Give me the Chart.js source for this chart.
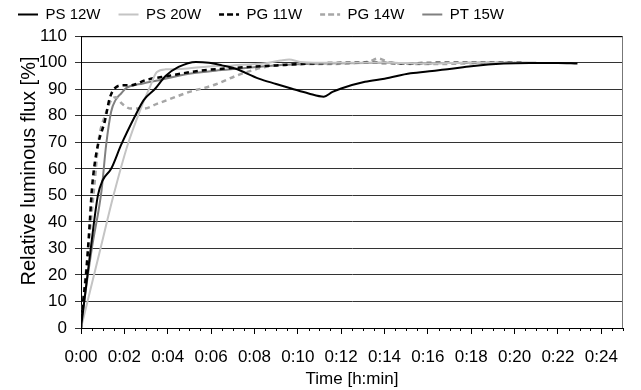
<!DOCTYPE html>
<html>
<head>
<meta charset="utf-8">
<script src="https://cdn.jsdelivr.net/npm/chart.js@4.4.1/dist/chart.umd.min.js"></script>
<style>
  html, body { margin: 0; padding: 0; background: #fff; }
</style>
</head>
<body>
<canvas id="flux" width="641" height="390"></canvas>
<script>
// czas w minutach, strumien w %
const seriesNames = ['PS 12W', 'PS 20W', 'PG 11W', 'PG 14W', 'PT 15W'];

const ps12Time = [0, 0.15, 0.45, 0.78, 1.0, 1.39, 1.85, 2.5, 2.9, 3.4, 3.9, 4.5, 5.3, 5.9, 6.5, 7.1, 8.2, 9.0, 9.7, 10.5, 11.2, 11.6, 12.0, 13.1, 14.0, 15.2, 16.2, 17.0, 18.0, 19.5, 20.7, 22.0, 22.9];
const ps12Flux = [0, 10, 30, 50, 55.7, 60, 69, 80, 86, 90, 95, 98.4, 100.3, 100, 99, 97.8, 94, 92, 90.3, 88.4, 87.2, 89, 90.3, 92.8, 94, 96, 96.9, 97.6, 98.7, 99.7, 99.9, 99.9, 99.7];

const ps20Time = [0, 0.3, 0.9, 1.5, 2.15, 2.7, 3.15, 3.5, 3.9, 4.5, 5.5, 7.0, 8.5, 9.2, 9.6, 10.1, 11, 12.5, 14, 16, 18, 20, 20.6];
const ps20Flux = [0, 10, 30, 50, 69, 81.5, 90.3, 96.5, 97.5, 97.6, 98.3, 99, 99.8, 100.8, 101.2, 100.3, 100, 100, 100, 99.8, 100, 100, 100];

const pg11Time = [0, 0.1, 0.24, 0.4, 0.5, 0.6, 0.78, 1.1, 1.32, 1.55, 1.95, 2.3, 3, 4, 5.5, 7, 9, 11, 13, 15, 17, 19, 20.5];
const pg11Flux = [0, 10, 20.6, 39.4, 52, 60, 69, 78, 86.5, 90.3, 91.5, 91.5, 93.5, 95, 97, 98, 99, 99.8, 100, 99.8, 100, 100, 100];

const pg14Time = [0, 0.1, 0.25, 0.45, 0.63, 0.8, 1.15, 1.4, 1.6, 1.9, 2.3, 2.9, 3.5, 4, 5, 6.1, 7.3, 8.5, 9.7, 11, 12.5, 13.3, 13.7, 14.2, 15, 16.5, 18, 20];
const pg14Flux = [0, 10, 23, 40, 55, 70, 81, 86, 87, 84.5, 82.7, 82.7, 84.5, 86, 89, 91.5, 95.5, 98.4, 99.4, 99.5, 99.8, 100.5, 101.6, 100.2, 99.6, 99.5, 99.8, 100.2];

const pt15Time = [0, 0.15, 0.5, 0.95, 1.16, 1.39, 1.6, 1.85, 2.1, 2.86, 3.6, 4.3, 5.15, 6.2, 7.3, 8.5, 10, 12, 14, 16, 18, 20, 21];
const pt15Flux = [0, 10, 30, 52, 69, 81.5, 86, 88.4, 90.5, 92.2, 93.4, 94.7, 96, 97, 97.8, 98.7, 99.4, 99.8, 100, 99.8, 100, 100, 100];

const xTickLabels = ['0:00', '0:02', '0:04', '0:06', '0:08', '0:10', '0:12', '0:14', '0:16', '0:18', '0:20', '0:22', '0:24'];

function toPoints(times, values) {
  return times.map((t, i) => ({x: t, y: values[i]}));
}

const lineStyles = [
  {color: '#000000', dash: [], width: 2},
  {color: '#c4c4c4', dash: [], width: 2},
  {color: '#000000', dash: [5, 4], width: 2.5},
  {color: '#a6a6a6', dash: [5, 4], width: 2.5},
  {color: '#808080', dash: [], width: 2}
];

const allData = [
  toPoints(ps12Time, ps12Flux),
  toPoints(ps20Time, ps20Flux),
  toPoints(pg11Time, pg11Flux),
  toPoints(pg14Time, pg14Flux),
  toPoints(pt15Time, pt15Flux)
];

const fontFamily = 'Liberation Sans, Arial, sans-serif';

// ramka wykresu i male kreski na osi X
const framePlugin = {
  id: 'frame',
  afterDraw(chart) {
    const ctx = chart.ctx;
    const a = chart.chartArea;
    const xs = chart.scales.x;
    ctx.save();
    ctx.lineWidth = 1;
    ctx.strokeStyle = '#000';
    ctx.beginPath();
    ctx.moveTo(a.left, a.top + 0.5);
    ctx.lineTo(a.right, a.top + 0.5);
    ctx.stroke();
    ctx.strokeStyle = '#777';
    ctx.beginPath();
    ctx.moveTo(a.right - 0.5, a.top);
    ctx.lineTo(a.right - 0.5, a.bottom);
    ctx.stroke();
    ctx.strokeStyle = '#000';
    ctx.beginPath();
    for (let v = 0.5; v <= 25; v += 0.5) {
      if (v % 2 === 0) continue;
      const px = Math.round(xs.getPixelForValue(v)) + 0.5;
      ctx.moveTo(px, a.bottom);
      ctx.lineTo(px, a.bottom + 3);
    }
    ctx.stroke();
    ctx.restore();
  }
};

const ctx = document.getElementById('flux').getContext('2d');
new Chart(ctx, {
  type: 'line',
  data: {
    datasets: allData.map((pts, i) => ({
      label: seriesNames[i],
      data: pts,
      borderColor: lineStyles[i].color,
      backgroundColor: lineStyles[i].color,
      borderDash: lineStyles[i].dash,
      borderWidth: lineStyles[i].width,
      pointRadius: 0,
      cubicInterpolationMode: 'monotone',
      fill: false
    }))
  },
  options: {
    responsive: false,
    animation: false,
    layout: {padding: {left: 0, right: 18, top: -11, bottom: 0}},
    plugins: {
      tooltip: {enabled: false},
      legend: {
        position: 'top',
        align: 'start',
        labels: {
          boxWidth: 20,
          boxHeight: 0,
          padding: 18,
          color: '#000',
          font: {family: fontFamily, size: 15}
        }
      },
      // pusty odstep pod legenda
      subtitle: {
        display: true,
        text: '',
        weight: 500,
        padding: {top: 0, bottom: 3},
        font: {size: 1}
      }
    },
    scales: {
      x: {
        type: 'linear',
        min: 0,
        max: 25,
        afterFit(scale) { scale.height = 62; },
        grid: {drawOnChartArea: false, drawTicks: true, tickLength: 6, color: '#000'},
        border: {color: '#000', width: 1},
        ticks: {
          stepSize: 2,
          includeBounds: false,
          autoSkip: false,
          maxRotation: 0,
          padding: 13,
          color: '#000',
          font: {family: fontFamily, size: 17},
          callback: (v) => xTickLabels[v / 2]
        },
        title: {
          display: true,
          text: 'Time [h:min]',
          color: '#000',
          padding: {top: 0, bottom: 0},
          font: {family: fontFamily, size: 17}
        }
      },
      y: {
        min: 0,
        max: 110,
        afterFit(scale) { scale.width = 81; },
        grid: {color: '#333', tickLength: 6},
        border: {color: '#000', width: 1},
        ticks: {
          stepSize: 10,
          padding: 8,
          color: '#000',
          font: {family: fontFamily, size: 17}
        },
        title: {
          display: true,
          text: '    Relative luminous flux [%]',
          color: '#000',
          padding: {top: 17, bottom: 0},
          font: {family: fontFamily, size: 20}
        }
      }
    }
  },
  plugins: [framePlugin]
});
</script>
</body>
</html>
